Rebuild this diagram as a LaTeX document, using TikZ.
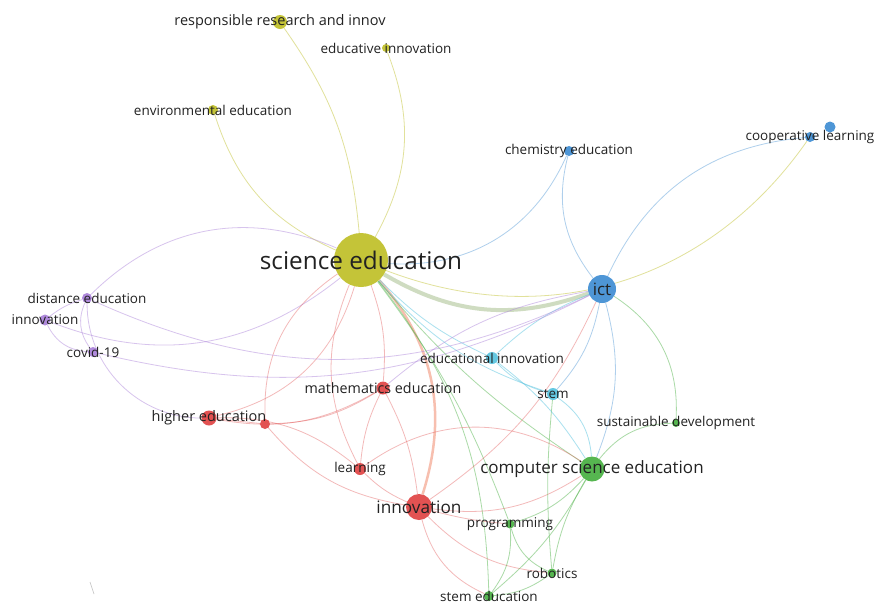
\documentclass[tikz,border=0pt]{standalone}
\usepackage{fontspec}
\setmainfont{Open Sans}
\usetikzlibrary{backgrounds}
\definecolor{kwyel}{RGB}{196,196,56}
\definecolor{kwblu}{RGB}{78,150,214}
\definecolor{kwred}{RGB}{226,82,82}
\definecolor{kwgrn}{RGB}{86,182,80}
\definecolor{kwpur}{RGB}{176,138,220}
\definecolor{kwcya}{RGB}{100,200,226}
\definecolor{kwtxt}{RGB}{34,34,34}
\begin{document}
\begin{tikzpicture}[x=1pt,y=-1pt,
  kw/.style={circle,inner sep=0pt,minimum size=#1},
  lbl/.style={text=kwtxt,inner sep=0pt,font=\fontsize{13.5}{13.5}\selectfont},
  biglbl/.style={text=kwtxt,inner sep=0pt,font=\fontsize{#1}{#1}\selectfont},
  yl/.style={draw=kwyel,opacity=.5,line width=.8pt},
  bl/.style={draw=kwblu,opacity=.45,line width=.8pt},
  rd/.style={draw=kwred,opacity=.4,line width=.8pt},
  gr/.style={draw=kwgrn,opacity=.5,line width=.8pt},
  pu/.style={draw=kwpur,opacity=.5,line width=.8pt},
  cy/.style={draw=kwcya,opacity=.55,line width=.8pt}]
\useasboundingbox (0,0) rectangle (875,603);
\node[kw=54,fill=kwyel] (sci) at (361,260) {};
\node[kw=14,fill=kwyel] (rri) at (280,22) {};
\node[kw=8,fill=kwyel] (edi) at (386,48) {};
\node[kw=10,fill=kwyel] (env) at (213,110) {};
\node[kw=10,fill=kwblu] (chem) at (569,151) {};
\node[kw=10,fill=kwblu] (coop) at (810,137) {};
\node[kw=11,fill=kwblu] (coopb) at (830,127) {};
\node[kw=28,fill=kwblu] (ict) at (602,289) {};
\node[kw=10,fill=kwpur] (dist) at (87,298) {};
\node[kw=11,fill=kwpur] (innp) at (45,320) {};
\node[kw=10,fill=kwpur] (covid) at (93,352) {};
\node[kw=12,fill=kwcya] (edin) at (492,358) {};
\node[kw=12,fill=kwcya] (stem) at (553,394) {};
\node[kw=13,fill=kwred] (math) at (383,388) {};
\node[kw=15,fill=kwred] (high) at (209,418) {};
\node[kw=10,fill=kwred] (redx) at (265,424) {};
\node[kw=12,fill=kwred] (learn) at (360,469) {};
\node[kw=26,fill=kwred] (innov) at (419,507) {};
\node[kw=8,fill=kwgrn] (sust) at (676,423) {};
\node[kw=25,fill=kwgrn] (cse) at (592,469) {};
\node[kw=9,fill=kwgrn] (prog) at (510,524) {};
\node[kw=9,fill=kwgrn] (robot) at (552,573) {};
\node[kw=10,fill=kwgrn] (stemed) at (489,596) {};

\node[biglbl=24.3] (sci-t) at (sci) {science education};
\node[biglbl=14.5] (rri-t) at (rri) {responsible research and innov};
\node[lbl] (edi-t) at (edi) {educative innovation};
\node[lbl] (env-t) at (env) {environmental education};
\node[lbl] (chem-t) at (chem) {chemistry education};
\node[lbl] (coop-t) at (coop) {cooperative learning};
\node[biglbl=17] (ict-t) at (ict) {ict};
\node[lbl] (dist-t) at (dist) {distance education};
\node[lbl] (innp-t) at (innp) {innovation};
\node[lbl] (covid-t) at (covid) {covid-19};
\node[lbl] (edin-t) at (edin) {educational innovation};
\node[lbl] (stem-t) at (stem) {stem};
\node[biglbl=14.3] (math-t) at (math) {mathematics education};
\node[biglbl=14.5] (high-t) at (high) {higher education};
\node[lbl] (learn-t) at (learn) {learning};
\node[biglbl=17.2] (innov-t) at (innov) {innovation};
\node[lbl] (sust-t) at (sust) {sustainable development};
\node[biglbl=17] (cse-t) at (cse) {computer science education};
\node[lbl] (prog-t) at (prog) {programming};
\node[lbl] (robot-t) at (robot) {robotics};
\node[lbl] (stemed-t) at (stemed) {stem education};

\begin{pgfonlayer}{background}
\fill[white] (0,0) rectangle (875,603);
\draw[gray!50,line width=.6pt] (90,582) -- (94,594);
\draw[yl] (rri) to[bend left=15] (sci);
\draw[yl] (edi) to[bend left=25] (sci);
\draw[yl] (env) to[bend right=24] (sci);
\draw[bl] (chem) to[bend left=35] (sci);
\draw[draw=kwyel!60!kwblu,opacity=.45,line width=4pt] (sci) to[bend right=25] (ict);
\draw[yl] (sci) to[bend right=38] (coop);
\draw[pu] (dist) to[bend left=34] (sci);
\draw[pu] (innp) to[bend right=30] (sci);
\draw[rd] (high) to[bend right=30] (sci);
\draw[rd] (redx) to[bend left=29] (sci);
\draw[rd] (learn) to[bend left=25] (sci);
\draw[rd] (math) to[bend right=12] (sci);
\draw[draw=kwred!70!orange,opacity=.4,line width=2.5pt] (innov) to[bend right=29] (sci);
\draw[cy] (sci) to[bend right=10] (edin);
\draw[cy] (sci) to[bend right=15] (stem);
\draw[gr] (sci) to[bend right=8] (cse);
\draw[gr] (sci) to[bend left=18] (stemed);
\draw[gr] (sci) to[bend left=8] (prog);
\draw[bl] (ict) to[bend left=30] (coop);
\draw[bl] (chem) to[bend right=26] (ict);
\draw[gr] (ict) to[bend left=30] (sust);
\draw[bl] (ict) to[bend left=18] (cse);
\draw[bl] (ict) to[bend left=15] (stem);
\draw[cy] (ict) to[bend right=10] (edin);
\draw[pu] (dist) to[bend right=25] (ict);
\draw[pu] (covid) to[bend right=20] (ict);
\draw[pu] (math) to[bend left=15] (ict);
\draw[rd] (innov) to[bend right=15] (ict);
\draw[pu] (dist) to[bend right=10] (innp);
\draw[pu] (innp) to[bend right=30] (covid);
\draw[pu] (dist) to[bend right=30] (covid);
\draw[pu] (dist) to[bend right=45] (high);
\draw[rd] (high) -- (redx);
\draw[rd] (high) to[bend right=20] (math);
\draw[rd] (redx) to[bend right=15] (math);
\draw[rd] (high) to[bend left=20] (learn);
\draw[rd] (redx) to[bend right=20] (innov);
\draw[rd] (learn) to[bend left=10] (math);
\draw[rd] (learn) to[bend right=10] (innov);
\draw[rd] (math) to[bend left=10] (innov);
\draw[rd] (learn) to[bend left=35] (cse);
\draw[rd] (innov) to[bend right=20] (cse);
\draw[rd] (innov) to[bend right=5] (prog);
\draw[rd] (innov) to[bend right=25] (stemed);
\draw[rd] (innov) to[bend right=20] (robot);
\draw[cy] (cse) to[bend right=25] (stem);
\draw[gr] (cse) to[bend left=25] (sust);
\draw[gr] (cse) to[bend left=15] (prog);
\draw[gr] (cse) to[bend right=10] (robot);
\draw[gr] (cse) to[bend left=10] (stemed);
\draw[gr] (prog) to[bend left=20] (stemed);
\draw[gr] (prog) to[bend right=25] (robot);
\draw[gr] (robot) to[bend left=15] (stemed);
\draw[gr] (robot) to[bend left=5] (stem);
\draw[cy] (edin) to[bend right=15] (stem);
\draw[cy] (edin) to[bend left=10] (cse);
\end{pgfonlayer}
\end{tikzpicture}
\end{document}
